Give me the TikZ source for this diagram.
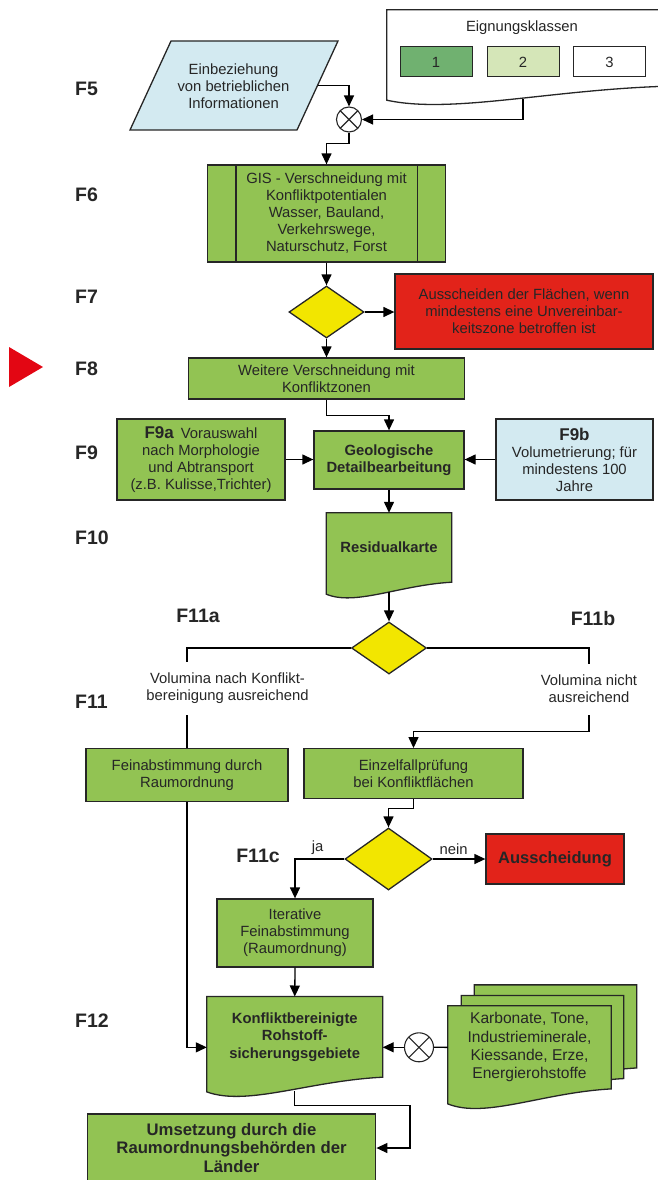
\documentclass[tikz,border=0pt]{standalone}
\usepackage{fontspec}
\setmainfont{Liberation Sans}
\usetikzlibrary{shapes.geometric,arrows.meta,calc,backgrounds}

\definecolor{flowgreen}{RGB}{146,195,83}
\definecolor{flowyellow}{RGB}{242,230,0}
\definecolor{flowred}{RGB}{226,35,26}
\definecolor{flowblue}{RGB}{211,234,241}
\definecolor{classone}{RGB}{112,177,112}
\definecolor{classtwo}{RGB}{213,230,184}
\definecolor{markred}{RGB}{227,6,19}

% outline of a document symbol round node #1, #2 = drop of the left corner
\newcommand\docpath[2]{(#1.south east) -- (#1.north east) -- (#1.north west)
  -- ($(#1.south west)+(0,#2)$)
  .. controls ($(#1.south west)!.23!(#1.south east)+(0,2*#2)$)
  and ($(#1.south west)!.58!(#1.south east)+(0,#2/4)$) .. (#1.south east) -- cycle}

\tikzset{
  txt/.style={text=black!85, align=center, inner sep=0pt, font=\fontsize{14.8}{17}\selectfont},
  boldtxt/.style={txt, font=\fontsize{14.8}{17.5}\selectfont\bfseries},
  flabel/.style={text=black!85, inner sep=0pt, font=\fontsize{19.5}{22}\selectfont\bfseries},
  box/.style={txt, draw=black!85, line width=1.3pt},
  procbox/.style={box, fill=flowgreen},
  stopbox/.style={box, fill=flowred},
  infobox/.style={box, fill=flowblue},
  classbox/.style={box, line width=1pt, minimum width=72pt, minimum height=30pt},
  docline/.style={draw=black!85, line width=1.3pt, fill=flowgreen},
  decision/.style={diamond, draw=black!85, line width=1.3pt, fill=flowyellow, inner sep=0pt,
    minimum width=75pt, minimum height=52pt},
  mixer/.style={circle, draw=black!85, line width=1.1pt, fill=white, inner sep=0pt, minimum size=25pt,
    path picture={\draw[line width=1.1pt, black!85]
      (path picture bounding box.north west) -- (path picture bounding box.south east)
      (path picture bounding box.north east) -- (path picture bounding box.south west);}},
  conn/.style={draw=black, line width=1.3pt},
  gap/.style={txt, fill=white, inner xsep=2pt},
}

\begin{document}
\begin{tikzpicture}[x=1pt, y=-1pt, >={Triangle[length=11pt,width=10pt]}]
    \useasboundingbox (0,0) rectangle (657,1180);

    % step labels
    \node[flabel, anchor=west] (f5) at (75,89) {F5};
    \node[flabel, anchor=west] (f6) at (75,195) {F6};
    \node[flabel, anchor=west] (f7) at (75,297) {F7};
    \node[flabel, anchor=west] (f8) at (75,369) {F8};
    \node[flabel, anchor=west] (f9) at (75,453) {F9};
    \node[flabel, anchor=west] (f10) at (75,538) {F10};
    \node[flabel, anchor=west] (f11) at (75,702) {F11};
    \node[flabel, anchor=west] (f12) at (75,1021) {F12};
    \node[flabel] (f11a) at (198,616) {F11a};
    \node[flabel] (f11b) at (593,619) {F11b};
    \node[flabel] (f11c) at (258,856) {F11c};
    \fill[markred] (9,347) -- (9,387) -- (43,367) -- cycle;

    % legend
    \node[txt, minimum width=280pt, minimum height=76pt] (legend) at (527,48) {};
    \node[txt] (legtitle) at (522,28) {Eignungsklassen};
    \node[classbox, fill=classone] (kl1) at (436,62) {1};
    \node[classbox, fill=classtwo] (kl2) at (523,62) {2};
    \node[classbox, fill=white] (kl3) at (609.5,62) {3};
    \coordinate (legout) at (523,99);

    % F5
    \filldraw[draw=black!85, line width=1.3pt, fill=flowblue] (130,130) -- (171,41) -- (338,41) -- (297,130) -- cycle;
    \node[txt] (info) at (233.5,86) {Einbeziehung\\von betrieblichen\\Informationen};
    \coordinate (infoout) at (317.5,85.5);
    \node[mixer] (mix1) at (349,119.5) {};

    % F6 - F8
    \node[procbox, minimum width=238pt, minimum height=97pt] (gis) at (326.5,213.5)
        {GIS - Verschneidung mit\\Konfliktpotentialen\\Wasser, Bauland,\\Verkehrswege,\\Naturschutz, Forst};
    \draw[draw=black!85, line width=1.3pt]
        ([xshift=29pt]gis.north west) -- ([xshift=29pt]gis.south west)
        ([xshift=-29pt]gis.north east) -- ([xshift=-29pt]gis.south east);
    \node[decision] (dia1) at (326.5,312) {};
    \node[stopbox, minimum width=258pt, minimum height=75pt] (excl) at (524,311.5)
        {Ausscheiden der Flächen, wenn\\mindestens eine Unvereinbar-\\keitszone betroffen ist};
    \node[procbox, minimum width=276pt, minimum height=41pt] (more) at (326.5,378.5)
        {Weitere Verschneidung mit\\Konfliktzonen};

    % F9
    \node[procbox, minimum width=168pt, minimum height=81pt] (morph) at (201,459.5)
        {{\fontsize{17}{17}\selectfont\bfseries F9a}\hspace{7pt}Vorauswahl\\nach Morphologie\\und Abtransport\\(z.B. Kulisse,Trichter)};
    \node[procbox, boldtxt, minimum width=150pt, minimum height=58pt] (geo) at (389,460)
        {Geologische\\Detailbearbeitung};
    \node[infobox, minimum width=157pt, minimum height=81pt] (vol) at (574.5,459.5)
        {{\fontsize{17}{17}\selectfont\bfseries F9b}\\Volumetrierung; für\\mindestens 100\\Jahre};

    % F10, F11
    \node[boldtxt, minimum width=125pt, minimum height=69pt] (resid) at (389,547.5) {Residualkarte};
    \node[decision] (dia2) at (389,648) {};
    \node[procbox, minimum width=202pt, minimum height=53pt] (fein) at (187,775)
        {Feinabstimmung durch\\Raumordnung};
    \node[procbox, minimum width=219pt, minimum height=50pt] (einz) at (413.5,773.7)
        {Einzelfallprüfung\\bei Konfliktflächen};
    \node[decision, minimum width=87pt, minimum height=62pt] (dia3) at (388.5,859) {};
    \node[stopbox, minimum width=138pt, minimum height=50pt,
        font=\fontsize{16.5}{18}\selectfont\bfseries] (aus) at (555,859) {Ausscheidung};
    \node[procbox, minimum width=156pt, minimum height=68pt] (iter) at (295,933)
        {Iterative\\Feinabstimmung\\(Raumordnung)};

    % F12
    \node[boldtxt, minimum width=175.5pt, minimum height=80.3pt] (konf) at (294.75,1036.85)
        {Konfliktbereinigte\\Rohstoff-\\sicherungsgebiete};
    \node[mixer, minimum size=29pt] (mix2) at (419,1047.3) {};
    \node[txt, minimum width=162pt, minimum height=82.7pt] (karb3) at (555.5,1026.4) {};
    \node[txt, minimum width=162pt, minimum height=82.7pt] (karb2) at (542.5,1037) {};
    \node[txt, minimum width=163pt, minimum height=82.7pt,
        font=\fontsize{15.6}{18.3}\selectfont] (karb) at (529.5,1047.35)
        {Karbonate, Tone,\\Industrieminerale,\\Kiessande, Erze,\\Energierohstoffe};
    \node[procbox, minimum width=288.5pt, minimum height=68pt,
        font=\fontsize{16.7}{18.7}\selectfont\bfseries] (ums) at (231.5,1148)
        {Umsetzung durch die\\Raumordnungsbehörden der\\Länder};

    % document outlines
    \begin{scope}[on background layer]
        \filldraw[docline, fill=white] \docpath{legend}{14};
        \filldraw[docline] \docpath{resid}{12};
        \filldraw[docline] \docpath{konf}{14.7};
        \foreach \n in {karb3,karb2,karb}
        {
            \filldraw[docline] \docpath{\n}{15};
        }
    \end{scope}

    % connectors
    \draw[conn,->] (infoout) -| (mix1.north);
    \draw[conn,->] (legout) |- (mix1.east);
    \draw[conn,->] (mix1.south) -- ++(0,11) -| (gis.north);
    \draw[conn,->] (gis.south) -- (dia1.north);
    \draw[conn,->] (dia1.east) -- (dia1.east -| excl.west);
    \draw[conn,->] (dia1.south) -- (more.north);
    \draw[conn,->] (more.south) -- ++(0,16) -| (geo.north);
    \draw[conn,->] (morph.east) -- (morph.east -| geo.west);
    \draw[conn,->] (vol.west) -- (vol.west -| geo.east);
    \draw[conn,->] (geo.south) -- (resid.north);
    \draw[conn,->] ($(resid.south)+(0,10)$) -- (dia2.north);
    \draw[conn] (dia2.west) -| (fein.north);
    \draw[conn,->] (dia2.east) -| ($(einz.north)+(175.5,-16.5)$) -| (einz.north);
    \node[gap, minimum height=53pt] (enough) at (227.5,688)
        {Volumina nach Konflikt-\\bereinigung ausreichend};
    \node[gap, minimum height=51pt] (short) at (589,689) {Volumina nicht\\ausreichend};
    \draw[conn,->] (einz.south) -- ++(0,9) -| (dia3.north);
    \draw[conn,->] (dia3.east) -- node[txt, above=4pt, pos=.4] (nein) {nein} (aus.west);
    \draw[conn,->] (dia3.west) -| node[txt, above=4pt, pos=.27] (ja) {ja} (iter.north);
    \draw[conn,->] (iter.south) -- (konf.north);
    \draw[conn,->] (fein.south) |- ([yshift=-10.5pt]konf.west);
    \draw[conn] (karb.west) -- (mix2.east);
    \draw[conn,->] (mix2.west) -- (mix2.west -| konf.east);
    \draw[conn,->] ($(konf.south)+(0,14)$) -- ++(0,14) -| ($(ums.east)+(33.5,0)$) -- (ums.east);
\end{tikzpicture}
\end{document}
